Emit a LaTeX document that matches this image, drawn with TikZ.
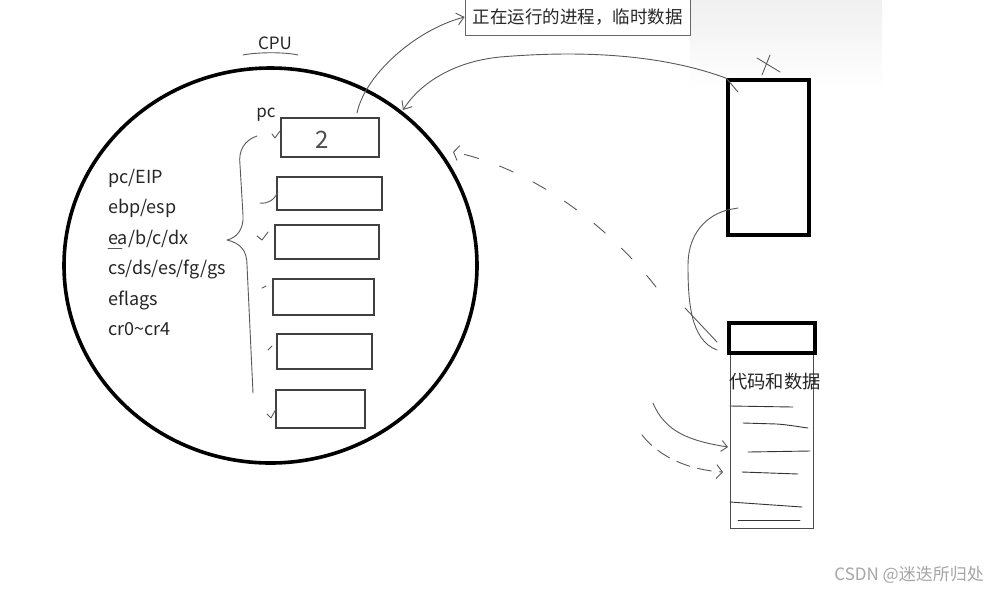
\documentclass[tikz,border=0pt]{standalone}
\usepackage{fontspec}
\setmainfont{Noto Sans CJK SC}
\usetikzlibrary{arrows.meta,shapes.geometric}
\tikzset{
  reg/.style={draw=black!75, line width=1.1pt, inner sep=0pt},
  thickbox/.style={draw=black, line width=3.6pt, inner sep=0pt},
  thinbox/.style={draw=black!70, line width=1pt, inner sep=0pt},
  lbl/.style={anchor=base west, inner sep=0pt, text=black!85, font=\fontsize{18}{20}\selectfont},
  hand/.style={draw=black!65, line width=0.9pt, line cap=round, line join=round},
  handdash/.style={hand, dash pattern=on 15pt off 22pt},
  barb/.style={-{Straight Barb[length=7pt,width=12pt,line width=0.9pt]}},
}
\begin{document}
\begin{tikzpicture}[x=1pt,y=-1pt]
\useasboundingbox (0,0) rectangle (987,590);
\fill[white] (0,0) rectangle (987,590);
\shade[top color=black!6, bottom color=white] (690,0) rectangle (882,88);

% CPU circle
\node[draw=black, line width=3.6pt, ellipse, minimum width=413pt, minimum height=395pt, inner sep=0pt] (cpu) at (270.5,265.5) {};
\node[anchor=base, inner sep=0pt, text=black!85, font=\fontsize{17}{18}\selectfont] (cpulbl) at (275,49) {CPU};
\draw[hand] (243,55) .. controls (258,52) and (285,52) .. (298,55);

% registers
\node[anchor=base, inner sep=0pt, text=black!85, font=\fontsize{17}{18}\selectfont] (pclbl) at (266,117) {pc};
\node[reg, minimum width=98pt, minimum height=39pt] (r1) at (330,137.5) {};
\node[text=black!70, font=\fontsize{24}{24}\selectfont] (two) at (322,140) {2};
\node[reg, minimum width=105pt, minimum height=33pt] (r2) at (329.5,193.5) {};
\node[reg, minimum width=104pt, minimum height=34pt] (r3) at (327,242) {};
\node[reg, minimum width=101pt, minimum height=36pt] (r4) at (323.5,297) {};
\node[reg, minimum width=95pt, minimum height=35pt] (r5) at (324.5,351.5) {};
\node[reg, minimum width=89pt, minimum height=38pt] (r6) at (320.5,409) {};

% register names
\node[lbl] (n1) at (108,183) {pc/EIP};
\node[lbl] (n2) at (108,213.5) {ebp/esp};
\node[lbl] (n3) at (108,244) {ea/b/c/dx};
\node[lbl] (n4) at (108,274.5) {cs/ds/es/fg/gs};
\node[lbl] (n5) at (108,305) {eflags};
\node[lbl] (n6) at (108,335.5) {cr0\textasciitilde cr4};
\draw[hand, line width=0.8pt] (108,248) -- (122,248);

% brace
\draw[hand] (257,136) .. controls (245,140) and (238,150) .. (240,165) -- (243,215)
  .. controls (244,230) and (236,238) .. (227,240)
  .. controls (240,243) and (247,250) .. (247,265) -- (253,393);

% ticks
\draw[hand] (272,134) -- (275,138) -- (280,131);
\draw[hand] (260,203) .. controls (268,204) and (274,200) .. (278,192);
\draw[hand] (257,236) -- (262,240) -- (268,232);
\draw[hand] (262,288) -- (266,286);
\draw[hand] (268,350) -- (272,346);
\draw[hand] (267,414) -- (271,418) -- (276,409);

% top label
\node[draw=black!60, line width=0.9pt, minimum width=225pt, minimum height=36pt, inner sep=0pt,
      text=black!85, font=\fontsize{17.5}{18}\selectfont] (tip) at (577.5,17) {正在运行的进程，临时数据};
\coordinate (a1) at (357,113);
\draw[hand, barb] (a1) .. controls (365,75) and (415,30) .. (tip.west);

% memory blocks
\node[thickbox, minimum width=81pt, minimum height=155pt] (proc) at (768.5,157.5) {};
\node[thinbox, minimum width=83pt, minimum height=175pt] (mem) at (771.5,440.5) {};
\node[thickbox, minimum width=86pt, minimum height=30pt] (small) at (772,338) {};
\node[anchor=west, inner sep=0pt, text=black!85, font=\fontsize{18.3}{19}\selectfont] (cd) at (729,382) {代码和数据};

% X mark
\draw[hand] (757,58) -- (780,72);
\draw[hand] (770,55) -- (762,75);

% proc -> cpu
\coordinate (b0) at (738,92);
\coordinate (b1) at (403,110);
\draw[hand, barb] (b0) -- (proc.north west) .. controls (650,50) and (560,52) .. (500,57)
   .. controls (450,62) and (418,86) .. (b1);

% proc -> small
\coordinate (c0) at (738,208);
\coordinate (c1) at (717,350);
\draw[hand] (c0) -- (727,210) .. controls (700,218) and (688,240) .. (688,265)
   .. controls (688,300) and (690,340) .. (c1);
\draw[hand] (685,308) -- (717,342);

% dashed arrow to cpu
\coordinate (d0) at (656,287);
\coordinate (d1) at (453,152);
\draw[handdash, -{Straight Barb[length=5pt,width=15pt,line width=0.9pt]}] (d0) .. controls (600,215) and (520,165) .. (d1);

% arrows into data
\coordinate (e0) at (653,403);
\coordinate (e1) at (728,447);
\draw[hand, -{Straight Barb[length=6pt,width=11pt,line width=0.9pt]}] (e0) .. controls (665,432) and (690,441) .. (e1);
\coordinate (f0) at (642,435);
\coordinate (f1) at (723,472);
\draw[hand, dash pattern=on 14pt off 8pt, -{Straight Barb[length=6pt,width=14pt,line width=0.9pt]}] (f0) .. controls (660,458) and (690,470) .. (f1);

% data lines
\draw[hand, draw=black!80] (730,406) -- (793,407);
\draw[hand, draw=black!80] (743,423) -- (777,424) .. controls (790,425) and (800,427) .. (808,428);
\draw[hand, draw=black!80] (748,452) -- (810,451);
\draw[hand, draw=black!80] (742,472) -- (798,474);
\draw[hand, draw=black!80] (730,502) -- (802,507);
\draw[hand, draw=black!80] (738,520) -- (800,520);

% watermark
\node[anchor=base east, inner sep=0pt, text=black!35, font=\fontsize{17}{18}\selectfont] (wm) at (984,580) {CSDN @迷迭所归处};
\end{tikzpicture}
\end{document}
